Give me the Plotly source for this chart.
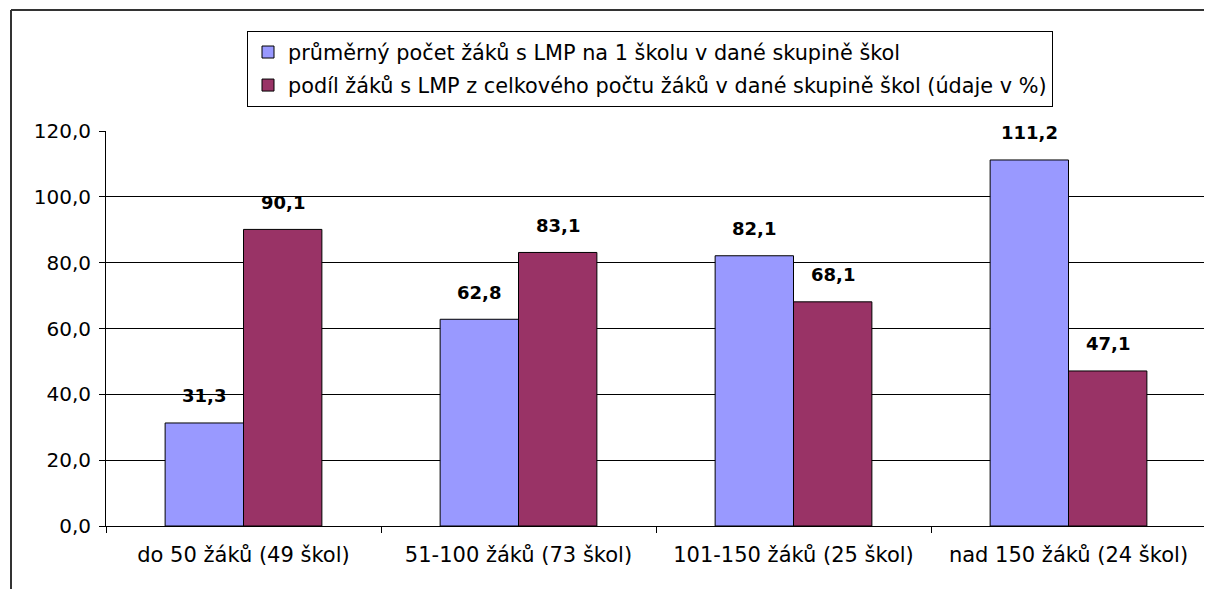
import plotly.graph_objects as go

categories = ["do 50 žáků (49 škol)", "51-100 žáků (73 škol)", "101-150 žáků (25 škol)", "nad 150 žáků (24 škol)"]
series_names = [
    "průměrný počet žáků s LMP na 1 školu v dané skupině škol",
    "podíl žáků s LMP z celkového počtu žáků v dané skupině škol (údaje v %)",
]
avg_per_school = [31.3, 62.8, 82.1, 111.2]
share_pct = [90.1, 83.1, 68.1, 47.1]
series_values = [avg_per_school, share_pct]
colors = ["#9999FF", "#993366"]
y_ticks = [0, 20, 40, 60, 80, 100, 120]

FONT = "DejaVu Sans"
OFF = 8  # page body margin of the html
W, H = 1212, 589
# target plot area in page pixels: x 106..1206, y 131..526
ML, MT = 106 - OFF, 131 - OFF
MR = W - (1206 - OFF)
MB = H - (526 - OFF)
PW = W - ML - MR
PH = H - MT - MB

fig = go.Figure()
for i, (name, vals, col) in enumerate(zip(series_names, series_values, colors)):
    fig.add_trace(go.Bar(
        x=categories, y=vals, name=name, legendgroup="g%d" % i,
        marker=dict(color=col, line=dict(color="#000000", width=1)),
    ))

# data labels above bars
bar_w_px = PW / len(categories) * (1 - 0.43) / 2
for si, vals in enumerate(series_values):
    offs = (si - 0.5) * bar_w_px
    for cat, v in zip(categories, vals):
        fig.add_annotation(
            x=cat, y=v, xref="x", yref="y",
            text=("%.1f" % v).replace(".", ","),
            showarrow=False, xshift=offs, yshift=27, yanchor="middle",
            font=dict(family=FONT, size=18, color="#000000", weight="bold"),
        )

def px_x(px):
    return (px - OFF - ML) / PW

def px_y(py):
    return (H - MB - (py - OFF)) / PH

# outer chart border (top and left visible)
fig.add_shape(type="line", xref="paper", yref="paper",
              x0=px_x(11), x1=px_x(1220), y0=px_y(10), y1=px_y(10),
              line=dict(color="#333333", width=2))
fig.add_shape(type="line", xref="paper", yref="paper",
              x0=px_x(11), x1=px_x(11), y0=px_y(10), y1=px_y(600),
              line=dict(color="#333333", width=2))
# right edge of plot area
fig.add_shape(type="line", xref="paper", yref="paper",
              x0=1, x1=1, y0=px_y(532), y1=1,
              line=dict(color="#555555", width=1))

fig.update_layout(
    width=W, height=H,
    margin=dict(l=ML, r=MR, t=MT, b=MB),
    paper_bgcolor="white", plot_bgcolor="white",
    barmode="group", bargap=0.43, bargroupgap=0,
    separators=", ",
    font=dict(family=FONT, size=20, color="#000000"),
    showlegend=True,
    legend=dict(
        x=px_x(247), y=px_y(31), xanchor="left", yanchor="top",
        bordercolor="#000000", borderwidth=1, bgcolor="white",
        font=dict(family=FONT, size=20.8, color="#000000"),
        traceorder="grouped", tracegroupgap=3,
    ),
    xaxis=dict(
        type="category", tickson="boundaries", ticks="outside", ticklen=6,
        tickcolor="#000000", showline=True, linecolor="#000000", linewidth=1,
        showgrid=False, ticklabelstandoff=10,
        tickfont=dict(family=FONT, size=21, color="#000000"),
    ),
    yaxis=dict(
        range=[0, 120], tickvals=y_ticks, tickformat=".1f",
        ticks="outside", ticklen=6, tickcolor="#000000",
        showline=True, linecolor="#000000", linewidth=1,
        showgrid=True, gridcolor="#000000", gridwidth=1, zeroline=False,
        ticklabelstandoff=4,
        tickfont=dict(family=FONT, size=20, color="#000000"),
    ),
)

fig.write_html("out.html")
